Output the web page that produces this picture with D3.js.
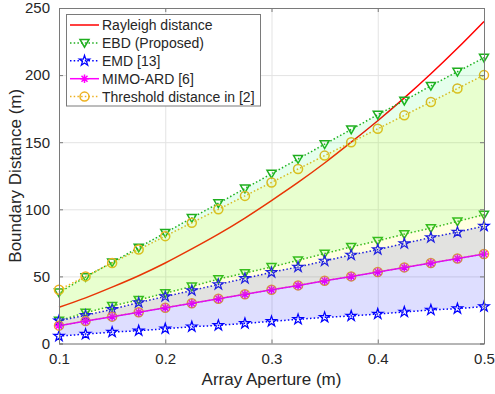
<!DOCTYPE html>
<html>
<head>
<meta charset="utf-8">
<script src="https://cdn.jsdelivr.net/npm/d3@7"></script>
<style>
  body { margin: 0; background: #fff; }
  svg { display: block; font-family: "Liberation Sans", Arial, Helvetica, sans-serif; }
</style>
</head>
<body>
<script>
// array aperture (m)
const aperture = [0.1, 0.125, 0.15, 0.175, 0.2, 0.225, 0.25, 0.275, 0.3,
  0.325, 0.35, 0.375, 0.4, 0.425, 0.45, 0.475, 0.5];

// boundary distances (m)
const rayleigh = [27, 34, 42, 50.5, 60, 70.5, 81.5, 93.5, 106.5, 120, 134.5, 150, 166, 183, 201, 220, 240];
const ebdUpper = [38, 49.5, 60.5, 71.5, 82.5, 93.5, 104.5, 115.5, 126.5, 137.5, 148.5, 159.5, 170.5, 181, 192, 202.5, 213];
const ebdLower = [17, 23, 28, 32.5, 37.5, 42.5, 48, 52.5, 57, 62, 67, 72, 76.5, 81.5, 86, 91, 96];
const emdUpper = [17, 21, 25.5, 30.5, 35, 39.5, 44, 48.5, 53, 57, 61.5, 66, 70, 74.5, 79, 83, 87.5];
const emdLower = [5.5, 7, 8.5, 9.5, 11, 12.5, 13.5, 15, 16.5, 18, 19.5, 20.5, 22, 23.5, 25, 26, 27.5];
const mimoArd = [13.3, 16.7, 20, 23.3, 26.7, 30, 33.3, 36.7, 40, 43.3, 46.7, 50, 53.3, 56.7, 60, 63.3, 66.7];
const thrUpper = [40, 50, 60, 70, 80, 90, 100, 110, 120, 130, 140, 150, 160, 170, 180, 190, 200];
const thrLower = [13.3, 16.7, 20, 23.3, 26.7, 30, 33.3, 36.7, 40, 43.3, 46.7, 50, 53.3, 56.7, 60, 63.3, 66.7];

const xTicks = [0.1, 0.2, 0.3, 0.4, 0.5];
const yTicks = [0, 50, 100, 150, 200, 250];
const legendLabels = ["Rayleigh distance", "EBD (Proposed)", "EMD [13]", "MIMO-ARD [6]", "Threshold distance in [2]"];

const width = 495;
const height = 394;
const margin = { top: 8, right: 11, bottom: 50.5, left: 59 };

const RED = "#ff0000", GREEN = "#1fae1f", BLUE = "#0000ff", MAGENTA = "#ff00ff", YELLOW = "#edb120";
const AXIS = "#7a7a7a", TEXT = "#262626";

const svg = d3.select("body").append("svg")
  .attr("width", width)
  .attr("height", height);

const x = d3.scaleLinear().domain([0.1, 0.5]).range([margin.left, width - margin.right]);
const y = d3.scaleLinear().domain([0, 250]).range([height - margin.bottom, margin.top]);

const pts = (vals) => aperture.map((a, i) => [a, vals[i]]);

// grid
svg.append("g")
  .attr("transform", `translate(0,${y(0)})`)
  .call(d3.axisBottom(x).tickValues(xTicks).tickSize(-(y(0) - y(250))).tickFormat(""))
  .call((g) => g.select(".domain").remove())
  .call((g) => g.selectAll("line").attr("stroke", "#e3e3e3").attr("stroke-width", 1));
svg.append("g")
  .attr("transform", `translate(${x(0.1)},0)`)
  .call(d3.axisLeft(y).tickValues(yTicks).tickSize(-(x(0.5) - x(0.1))).tickFormat(""))
  .call((g) => g.select(".domain").remove())
  .call((g) => g.selectAll("line").attr("stroke", "#e3e3e3").attr("stroke-width", 1));

const line = d3.line().x((d) => x(d[0])).y((d) => y(d[1]));
const smooth = d3.line().x((d) => x(d[0])).y((d) => y(d[1])).curve(d3.curveMonotoneX);

const plot = svg.append("g");

function series(vals, color, dotted, lineGen) {
  plot.append("path")
    .attr("d", (lineGen || line)(pts(vals)))
    .attr("fill", "none")
    .attr("stroke", color)
    .attr("stroke-width", 1.5)
    .attr("stroke-dasharray", dotted ? "1.5,2.2" : null);
}

// marker shapes
const triDown = "M-4.5,-3.4L4.5,-3.4L0,4.3Z";
const star = d3.symbol().type(d3.symbolStar).size(34)();
const asterisk = "M-4.2,0H4.2M0,-4.2V4.2M-3,-3L3,3M-3,3L3,-3";

function markers(vals, shape, color, sw) {
  plot.append("g").selectAll("path")
    .data(pts(vals))
    .join("path")
    .attr("transform", (d) => `translate(${x(d[0])},${y(d[1])})`)
    .attr("d", shape)
    .attr("fill", "none")
    .attr("stroke", color)
    .attr("stroke-width", sw || 1.5)
    .attr("stroke-linejoin", "miter");
}

function circles(vals, color) {
  plot.append("g").selectAll("circle")
    .data(pts(vals))
    .join("circle")
    .attr("cx", (d) => x(d[0]))
    .attr("cy", (d) => y(d[1]))
    .attr("r", 4.5)
    .attr("fill", "none")
    .attr("stroke", color)
    .attr("stroke-width", 1.5);
}

series(rayleigh, RED, false, smooth);
series(ebdUpper, GREEN, true); markers(ebdUpper, triDown, GREEN);
series(ebdLower, GREEN, true); markers(ebdLower, triDown, GREEN);
series(emdUpper, BLUE, true); markers(emdUpper, star, BLUE, 1.2);
series(emdLower, BLUE, true); markers(emdLower, star, BLUE, 1.2);
series(thrUpper, YELLOW, true); circles(thrUpper, YELLOW);
series(thrLower, YELLOW, true); circles(thrLower, "#f0a030");
series(mimoArd, MAGENTA, false); markers(mimoArd, asterisk, MAGENTA);

// shaded regions (transparent, on top as in the original)
const area = d3.area().x((d) => x(d.a)).y0((d) => y(d.lo)).y1((d) => y(d.hi));
function band(lo, hi, color, alpha) {
  plot.append("path")
    .attr("d", area(aperture.map((a, i) => ({ a, lo: lo[i], hi: hi[i] }))))
    .attr("fill", color)
    .attr("fill-opacity", alpha)
    .attr("stroke", "none");
}
band(ebdLower, ebdUpper, "#00ff40", 0.1);
band(emdLower, emdUpper, "#0000ff", 0.13);
band(thrLower, thrUpper, "#ffff00", 0.12);

// axes (box, inward ticks)
const tick = 4;
const axB = svg.append("g").attr("transform", `translate(0,${y(0)})`)
  .call(d3.axisBottom(x).tickValues(xTicks).tickSize(-tick).tickPadding(tick + 6).tickFormat(d3.format(".1f")));
const axT = svg.append("g").attr("transform", `translate(0,${y(250)})`)
  .call(d3.axisTop(x).tickValues(xTicks).tickSize(-tick).tickFormat(""));
const axL = svg.append("g").attr("transform", `translate(${x(0.1)},0)`)
  .call(d3.axisLeft(y).tickValues(yTicks).tickSize(-tick).tickPadding(tick + 5).tickFormat(d3.format("d")));
const axR = svg.append("g").attr("transform", `translate(${x(0.5)},0)`)
  .call(d3.axisRight(y).tickValues(yTicks).tickSize(-tick).tickFormat(""));
[axB, axT, axL, axR].forEach((g) => {
  g.select(".domain").attr("stroke", AXIS).attr("stroke-width", 1);
  g.selectAll(".tick line").attr("stroke", AXIS);
  g.selectAll("text").attr("fill", TEXT).attr("font-size", 15).attr("font-family", null);
});

// axis labels
svg.append("text")
  .attr("x", (x(0.1) + x(0.5)) / 2)
  .attr("y", 385)
  .attr("text-anchor", "middle")
  .attr("font-size", 17)
  .attr("fill", TEXT)
  .text("Array Aperture (m)");
svg.append("text")
  .attr("transform", `translate(20.5,${(y(0) + y(250)) / 2}) rotate(-90)`)
  .attr("text-anchor", "middle")
  .attr("font-size", 17)
  .attr("fill", TEXT)
  .text("Boundary Distance (m)");

// legend
const leg = svg.append("g");
leg.append("rect")
  .attr("x", 66.5).attr("y", 14.5).attr("width", 194).attr("height", 91.5)
  .attr("fill", "#fff").attr("stroke", AXIS).attr("stroke-width", 1);
const legStyle = [
  { color: RED, dotted: false, mark: null },
  { color: GREEN, dotted: true, mark: triDown },
  { color: BLUE, dotted: true, mark: star, sw: 1.2 },
  { color: MAGENTA, dotted: false, mark: asterisk },
  { color: YELLOW, dotted: true, mark: "circle" },
];
legendLabels.forEach((label, i) => {
  const cy = 25 + i * 17.9;
  const s = legStyle[i];
  leg.append("line")
    .attr("x1", 70).attr("x2", 99).attr("y1", cy).attr("y2", cy)
    .attr("stroke", s.color).attr("stroke-width", 1.5)
    .attr("stroke-dasharray", s.dotted ? "1.5,2.2" : null);
  if (s.mark === "circle") {
    leg.append("circle").attr("cx", 84.5).attr("cy", cy).attr("r", 4.5)
      .attr("fill", "none").attr("stroke", s.color).attr("stroke-width", 1.5);
  } else if (s.mark) {
    leg.append("path").attr("transform", `translate(84.5,${cy})`).attr("d", s.mark)
      .attr("fill", "none").attr("stroke", s.color).attr("stroke-width", s.sw || 1.5);
  }
  leg.append("text")
    .attr("x", 102)
    .attr("y", cy)
    .attr("dy", "0.35em")
    .attr("font-size", 14)
    .attr("fill", TEXT)
    .text(label);
});
</script>
</body>
</html>
